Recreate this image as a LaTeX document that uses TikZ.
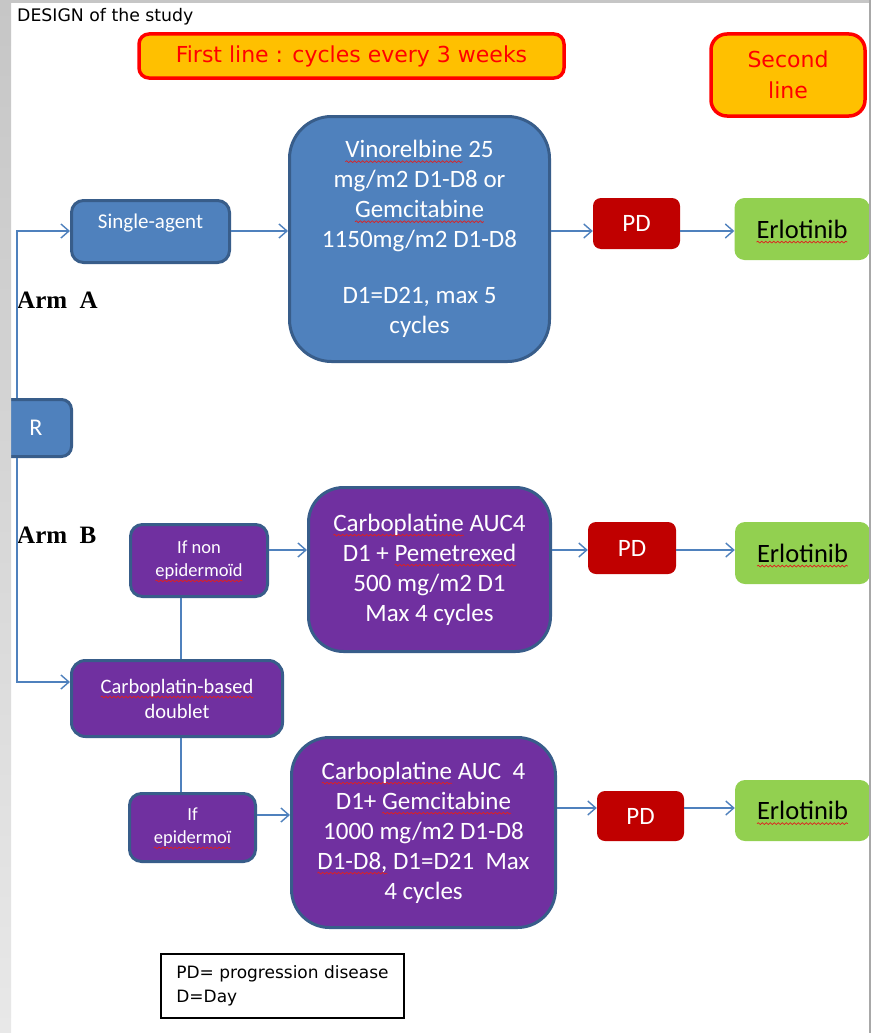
\documentclass[tikz,border=0pt]{standalone}
\usepackage{fontspec}
\setmainfont{Carlito}
\newfontfamily\tahfont{DejaVu Sans}
\newfontfamily\serfont{Liberation Serif}
\usetikzlibrary{arrows.meta,decorations.pathmorphing}

\definecolor{boxblue}{HTML}{4F81BD}
\definecolor{edgeblue}{HTML}{385D8A}
\definecolor{boxpurple}{HTML}{7030A0}
\definecolor{pdred}{HTML}{C00000}
\definecolor{ergreen}{HTML}{92D050}
\definecolor{headorange}{HTML}{FFC000}
\definecolor{headred}{HTML}{FF0000}
\definecolor{spellred}{HTML}{E02020}
\definecolor{stripA}{HTML}{C6C6C6}
\definecolor{stripB}{HTML}{E8E8E8}
\definecolor{rim}{HTML}{A8A8A8}

% red wavy underline, as a spell checker marks a word
\newsavebox\spellbox
\newlength\spellwd
\newcommand\spell[1]{\sbox\spellbox{#1}\setlength\spellwd{\wd\spellbox}%
  \tikz[overlay]\draw[draw=spellred, fill=none, line width=0.7pt, rounded corners=0pt,
    decorate, decoration={snake, amplitude=0.9pt, segment length=4pt}]
    (0pt,-4pt) -- (\spellwd,-4pt);%
  \usebox\spellbox}

\tikzset{
  base/.style={inner sep=0pt, align=center},
  bluebox/.style={base, fill=boxblue, draw=edgeblue, line width=3pt, text=white},
  purplebox/.style={base, fill=boxpurple, draw=edgeblue, line width=3pt, text=white},
  pdbox/.style={base, fill=pdred, rounded corners=8pt, text=white,
    font=\fontsize{25}{30}\selectfont},
  erlbox/.style={base, fill=ergreen, rounded corners=10pt, text=black,
    font=\fontsize{26.5}{30}\selectfont, minimum width=135pt},
  headbox/.style={base, fill=headorange, draw=headred, line width=3.5pt, text=headred,
    font=\tahfont\fontsize{22}{31}\selectfont},
  bigtext/.style={font=\fontsize{25}{30}\selectfont},
  armlabel/.style={anchor=west, inner sep=0pt, font=\serfont\bfseries\fontsize{25}{30}\selectfont},
  conn/.style={draw=boxblue, line width=1.4pt},
  arr/.style={conn, -{Straight Barb[length=8pt,width=14pt]}},
}

\begin{document}
\begin{tikzpicture}[x=1pt, y=-1pt]
\useasboundingbox (0,0) rectangle (871,1033);
\fill[white] (0,0) rectangle (871,1033);

% title and column headers
\node[anchor=west, inner sep=0pt, font=\tahfont\fontsize{17.3}{20}\selectfont] (title) at (17,17) {DESIGN of the study};
\node[headbox, rounded corners=10pt, minimum width=425pt, minimum height=44pt] (first) at (351.5,56)
  {First line : cycles every 3 weeks};
\node[headbox, rounded corners=16pt, minimum width=154pt, minimum height=82pt] (second) at (788,75)
  {Second\\line};

% randomisation
\node[bluebox, rounded corners=10pt, minimum width=71pt, minimum height=57pt,
  font=\fontsize{24}{30}\selectfont] (R) at (36,428) {R};

% arm A
\node[armlabel] (armA) at (17,300) {Arm\ \ A};
\node[bluebox, rounded corners=12pt, minimum width=158pt, minimum height=62pt,
  label={[anchor=center, text=white, font=\fontsize{21}{24}\selectfont, yshift=-24pt]north:Single-agent}]
  (sa) at (150.5,231.5) {};
\node[bluebox, bigtext, rounded corners=42pt, minimum width=260pt, minimum height=245pt] (vin) at (419.5,239)
  {\spell{Vinorelbine} 25\\ mg/m2 D1-D8 or\\ \spell{Gemcitabine}\\ 1150mg/m2 D1-D8\\[26pt] D1=D21, max 5\\ cycles};
\node[pdbox, minimum width=87pt, minimum height=51pt] (pd1) at (636.5,223.5) {PD};
\node[erlbox, minimum height=62pt] (erl1) at (802,229) {\spell{Erlotinib}};

% arm B
\node[armlabel] (armB) at (17,535) {Arm\ \ B};
\node[purplebox, rounded corners=12pt, minimum width=137pt, minimum height=72pt,
  font=\fontsize{18.5}{23}\selectfont] (nonep) at (199,560.5) {If non\\ \spell{epidermoïd}};
\node[purplebox, rounded corners=14pt, minimum width=211pt, minimum height=76pt,
  font=\fontsize{20.5}{25}\selectfont] (cb) at (177,698.5) {\spell{Carboplatin-based}\\ doublet};
\node[purplebox, rounded corners=12pt, minimum width=126pt, minimum height=68pt,
  font=\fontsize{18.5}{23}\selectfont] (ep) at (192.5,827.5) {If\\ \spell{epidermoï}};

\node[purplebox, bigtext, rounded corners=35pt, minimum width=242pt, minimum height=164pt] (box2) at (429.5,569.5)
  {\spell{Carboplatine} AUC4\\ D1 + \spell{Pemetrexed}\\ 500 mg/m2 D1\\ Max 4 cycles};
\node[pdbox, minimum width=88pt, minimum height=52pt] (pd2) at (632,548) {PD};
\node[erlbox, minimum height=62pt] (erl2) at (802.5,553) {\spell{Erlotinib}};

\node[purplebox, bigtext, rounded corners=38pt, minimum width=264pt, minimum height=190pt] (box3) at (423.5,832.5)
  {\spell{Carboplatine} AUC\ \ 4\\ D1+ \spell{Gemcitabine}\\ 1000 mg/m2 D1-D8\\ \spell{D1-D8,} D1=D21\ \ Max\\ 4 cycles};
\node[pdbox, minimum width=87pt, minimum height=50pt] (pd3) at (640.5,816) {PD};
\node[erlbox, minimum height=61pt] (erl3) at (802.5,810.5) {\spell{Erlotinib}};

% legend
\node[draw=black, line width=1.2pt, fill=white, minimum width=243pt, minimum height=64pt,
  align=left, inner sep=0pt, font=\tahfont\fontsize{17}{24}\selectfont] (legend) at (282.5,986)
  {PD= progression disease\\ D=Day};

% connectors
\coordinate (trunk) at (17,0);
\coordinate (stem) at (181,0);
\coordinate (r1) at (0,231);
\coordinate (r2) at (0,550);
\coordinate (r3) at (0,815);
\coordinate (r3b) at (0,808);
\coordinate (rcb) at (0,682);

\draw[arr] (R.north -| trunk) |- (sa.west |- r1);
\draw[arr] (R.south -| trunk) |- (cb.west |- rcb);

\draw[arr] (sa.east |- r1) -- (vin.west |- r1);
\draw[arr] (vin.east |- r1) -- (pd1.west |- r1);
\draw[arr] (pd1.east |- r1) -- (erl1.west |- r1);

\draw[conn] (nonep.south -| stem) -- (cb.north -| stem);
\draw[conn] (cb.south -| stem) -- (ep.north -| stem);

\draw[arr] (nonep.east |- r2) -- (box2.west |- r2);
\draw[arr] (box2.east |- r2) -- (pd2.west |- r2);
\draw[arr] (pd2.east |- r2) -- (erl2.west |- r2);

\draw[arr] (ep.east |- r3) -- (box3.west |- r3);
\draw[arr] (box3.east |- r3b) -- (pd3.west |- r3b);
\draw[arr] (pd3.east |- r3b) -- (erl3.west |- r3b);

% page frame
\shade[top color=stripA, bottom color=stripB] (0,0) rectangle (11,1033);
\fill[stripA] (0,0) rectangle (871,3);
\fill[rim] (869,0) rectangle (871,1033);
\end{tikzpicture}
\end{document}
